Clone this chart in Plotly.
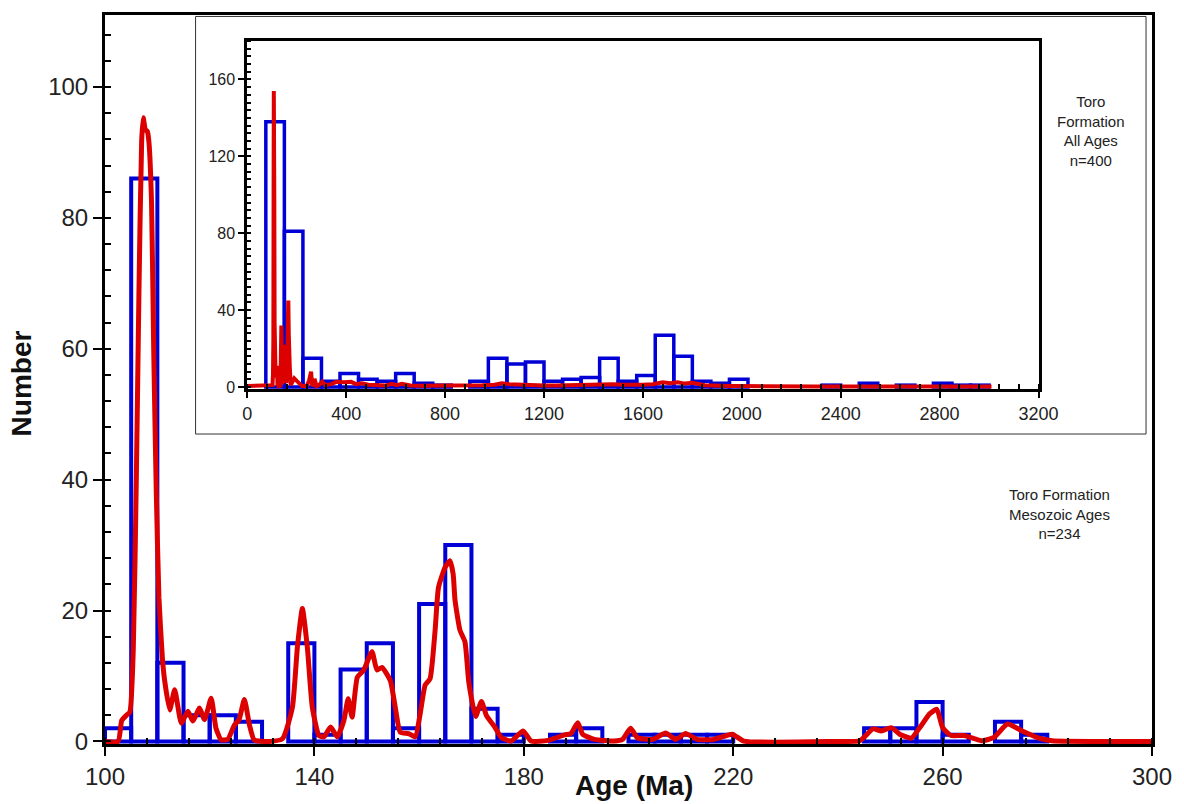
import plotly.graph_objects as go

# ---------------- data ----------------
# Main histogram (Mesozoic ages), 5 Ma bins
main_bin_start = list(range(100, 300, 5))
main_counts = [2, 86, 12, 4, 4, 3, 0, 15, 1, 11,
               15, 2, 21, 30, 5, 1, 0, 1, 2, 0,
               1, 1, 1, 1, 0, 0, 0, 0, 0, 2,
               2, 6, 1, 0, 3, 1, 0, 0, 0, 0]

# Main probability curve
main_kde_age = [100, 102.5, 103.2, 104.1, 104.75, 105.4, 106.0, 106.5, 107.0, 107.3,
                107.7, 108.1, 108.4, 108.9, 109.3, 109.8, 110.3, 110.96, 111.41, 112.36,
                113.31, 114.58, 115.84, 116.79, 118.06, 119.01, 120.28, 121.2, 122.18, 123.45,
                124.71, 125.6, 126.62, 127.6, 128.52, 131.4, 133.9, 135.8, 136.75, 137.7,
                138.65, 139.6, 140.87, 141.83, 143.1, 144.36, 145.63, 146.45, 147.2, 148.2,
                149.43, 151.0, 151.96, 152.9, 154.5, 155.45, 156.4, 158.0, 159.26, 160.2,
                161.16, 162.1, 163.06, 163.7, 164.96, 165.9, 166.5, 166.86, 167.8, 168.76,
                169.5, 170.8, 171.9, 172.9, 174.46, 175.7, 177.6, 179.85, 181.4, 184.6,
                187.8, 189.0, 190.3, 191.25, 193.5, 197.3, 198.86, 200.4, 201.7, 204.6,
                207.1, 209.0, 210.9, 213.1, 216.3, 219.8, 222.0, 239.7, 244.2, 246.7,
                248.3, 250.2, 251.8, 254.0, 255.9, 257.5, 258.9, 260.0, 261.6, 264.1,
                267.6, 269.8, 272.4, 275.2, 278.4, 280.9, 300]
main_kde_val = [0, 0, 3.2, 4.0, 4.5, 14, 41, 69.6, 91.7, 95.3,
                93.5, 93.2, 91.5, 82, 60, 38, 22, 12.7, 9.2, 4.8,
                7.9, 2.8, 4.6, 3.1, 5.1, 3.3, 6.6, 2.0, 0.25, 0.3,
                2.5, 3.3, 6.4, 2.5, 0.2, 0, 0.4, 5.2, 14.4, 20.3,
                14.4, 5.2, 0.9, 0.7, 2.2, 0.7, 3.2, 6.5, 3.7, 9.8,
                10.9, 13.7, 10.9, 11.3, 9.3, 5.2, 1.4, 1.2, 0.7, 4.2,
                8.6, 9.6, 17, 23.5, 26.6, 27.6, 25.6, 21.6, 17, 15.2,
                9.0, 3.8, 6.1, 3.9, 2.2, 0.6, 0.05, 1.6, 0.05, 0.15,
                1.0, 1.2, 2.85, 1.1, 0.3, 0.05, 0.3, 2.0, 0.56, 0.3,
                1.3, 0.3, 1.2, 0.3, 0.3, 1.1, 0.05, 0, 0.1, 1.9,
                1.6, 2.1, 1.1, 0.5, 2.4, 4.2, 4.9, 2.1, 0.9, 0.9,
                0.1, 0.6, 2.65, 1.6, 0.5, 0.1, 0]

# Inset histogram (all ages), 75 Ma bins
inset_bin_start = list(range(0, 3000, 75))
inset_counts = [0, 138, 81, 15, 3, 7, 4, 3, 7, 2,
                1, 0, 3, 15, 12, 13, 3, 4, 5, 15,
                3, 6, 27, 16, 3, 2, 4, 0, 0, 0,
                0, 1, 0, 2, 0, 1, 0, 2, 1, 1]

# Inset probability curve
inset_kde_age = [0, 95, 102, 104, 105.5, 106.5, 107.3, 108.4, 109.3, 110.5,
                 112.4, 113.3, 114.6, 118, 120.3, 122.2, 124.7, 126.6, 128.5, 133.9,
                 136.7, 137.7, 138.7, 140.9, 143.1, 145.6, 146.5, 148.2, 151.0, 152.9,
                 155.5, 158.0, 160.2, 162.1, 164.0, 165.9, 167.8, 169.5, 172.0, 175.7,
                 180, 190, 200, 211, 222, 240, 250, 258, 262, 268,
                 272, 280, 290, 303, 315, 340, 360, 390, 420, 440,
                 463, 490, 520, 560, 585, 605, 625, 660, 700, 760,
                 800, 850, 900, 950, 1000, 1030, 1060, 1100, 1150, 1200,
                 1250, 1300, 1350, 1400, 1450, 1480, 1520, 1560, 1600, 1640,
                 1680, 1710, 1740, 1770, 1800, 1850, 1900, 1950, 2000, 2100,
                 2300, 2500, 2700, 2850, 3010]
inset_kde_val = [0.5, 0.5, 1, 6.5, 25, 115, 154, 148, 97, 33,
                 8, 13, 5, 8, 11, 0.5, 4, 10, 0.5, 0.7,
                 23, 32, 23, 1.5, 3.5, 5, 10.5, 16, 22, 18,
                 8.5, 2, 7, 15.5, 39, 45, 27.5, 14.5, 10, 1,
                 2.5, 4.5, 3.2, 2, 0.5, 0.5, 3.4, 8, 1.5, 0.5,
                 4.3, 0.5, 1, 2.8, 1, 1.5, 2.7, 2.5, 2.7, 1.5,
                 2, 1.2, 1, 0.8, 1.7, 1, 1.7, 0.8, 0.7, 0.7,
                 0.5, 0.7, 0.6, 1, 1.2, 2, 1.5, 1.2, 1, 0.8,
                 0.8, 1, 1.2, 1, 1.2, 1.5, 1.2, 1, 1.2, 1.5,
                 2.5, 2, 2.5, 1.8, 2.2, 1, 0.6, 0.5, 0.5, 0.3,
                 0.3, 0.3, 0.3, 0.3, 0.3]

# ---------------- figure ----------------
BLUE = "#0000d6"
RED = "#dc0000"
FONT = "Liberation Sans, Arial, sans-serif"

fig = go.Figure()

mb_x = [s for s, c in zip(main_bin_start, main_counts) if c > 0]
mb_y = [c for c in main_counts if c > 0]
fig.add_trace(go.Bar(x=mb_x, y=mb_y, width=5, offset=0,
                     marker=dict(color="rgba(0,0,0,0)", line=dict(color=BLUE, width=4)),
                     xaxis="x", yaxis="y", hoverinfo="skip"))
fig.add_trace(go.Scatter(x=main_kde_age, y=main_kde_val, mode="lines",
                         line=dict(color=RED, width=5, shape="spline", smoothing=0.5),
                         xaxis="x", yaxis="y", hoverinfo="skip"))

ib_x = [s for s, c in zip(inset_bin_start, inset_counts) if c > 0]
ib_y = [c for c in inset_counts if c > 0]
fig.add_trace(go.Bar(x=ib_x, y=ib_y, width=75, offset=0,
                     marker=dict(color="rgba(0,0,0,0)", line=dict(color=BLUE, width=3.5)),
                     xaxis="x2", yaxis="y2", hoverinfo="skip"))
fig.add_trace(go.Scatter(x=inset_kde_age, y=inset_kde_val, mode="lines",
                         line=dict(color=RED, width=4),
                         xaxis="x2", yaxis="y2", hoverinfo="skip"))

axis_common = dict(showline=True, linecolor="black", mirror=True, showgrid=False,
                   zeroline=False, ticks="outside", tickcolor="black", tickwidth=2)

fig.update_layout(
    width=1184, height=804,
    margin=dict(l=105, r=27, t=15, b=60),
    paper_bgcolor="white", plot_bgcolor="white",
    showlegend=False, barmode="overlay",
    font=dict(family=FONT, color="#222"),
    xaxis=dict(**axis_common, range=[100, 300], tick0=100, dtick=40, ticklen=9,
               linewidth=3, tickfont=dict(size=24, color="#222"),
               minor=dict(tick0=100, dtick=8, ticks="inside", ticklen=6,
                          tickwidth=2, tickcolor="black")),
    yaxis=dict(**axis_common, range=[-0.4, 111], tick0=0, dtick=20, ticklen=9,
               linewidth=3, tickfont=dict(size=24, color="#222"),
               minor=dict(tick0=0, dtick=4, ticks="inside", ticklen=6,
                          tickwidth=2, tickcolor="black")),
    xaxis2=dict(**axis_common, domain=[0.1359, 0.8916], anchor="y2",
                range=[0, 3200], tick0=0, dtick=400, ticklen=6, linewidth=3,
                tickfont=dict(size=18, color="#222"),
                minor=dict(tick0=0, dtick=80, ticks="inside", ticklen=5,
                           tickwidth=1.5, tickcolor="black")),
    yaxis2=dict(**axis_common, domain=[0.487, 0.9643], anchor="x2",
                range=[-1, 180], tick0=0, dtick=40, ticklen=6, linewidth=3,
                tickfont=dict(size=16, color="#222"),
                minor=dict(tick0=0, dtick=4, ticks="inside", ticklen=4,
                           tickwidth=1.5, tickcolor="black")),
)

fig.add_shape(type="rect", xref="paper", yref="paper",
              x0=0.0865, x1=0.9943, y0=0.4252, y1=0.998,
              line=dict(color="#333", width=1), fillcolor="rgba(0,0,0,0)", layer="below")

fig.add_annotation(text="Toro<br>Formation<br>All Ages<br>n=400", xref="paper", yref="paper",
                   x=0.942, y=0.841, xanchor="center", yanchor="middle", showarrow=False,
                   align="center", font=dict(size=15, color="#222"))
fig.add_annotation(text="Toro Formation<br>Mesozoic Ages<br>n=234", xref="paper", yref="paper",
                   x=0.9116, y=0.3155, xanchor="center", yanchor="middle", showarrow=False,
                   align="center", font=dict(size=15, color="#222"))
fig.add_annotation(text="<b>Age (Ma)</b>", xref="paper", yref="paper",
                   x=0.5048, y=-0.0575, xanchor="center", yanchor="middle", showarrow=False,
                   font=dict(size=28, color="#111"))
fig.add_annotation(text="<b>Number</b>", xref="paper", yref="paper",
                   x=-0.0789, y=0.4952, xanchor="center", yanchor="middle", showarrow=False,
                   textangle=-90, font=dict(size=28, color="#111"))

fig.write_html("out.html")
